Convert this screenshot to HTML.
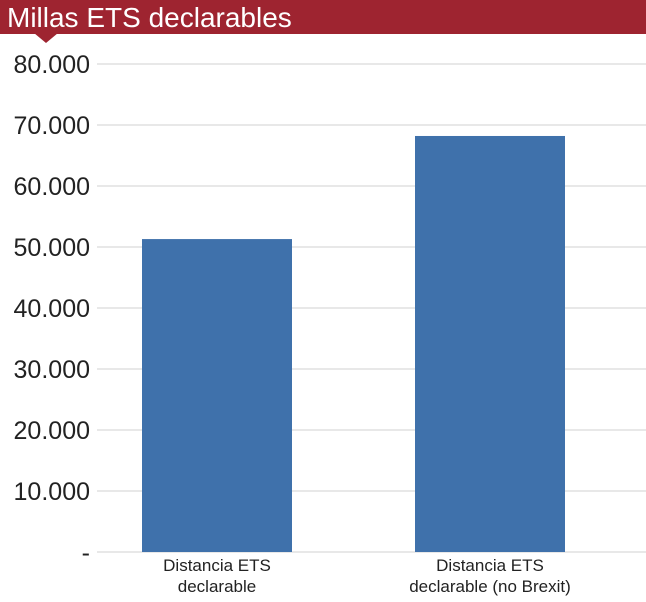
<!DOCTYPE html>
<html><head><meta charset="utf-8"><style>
body{margin:0;background:#fff;width:646px;height:597px;overflow:hidden;font-family:"Liberation Sans",sans-serif}
</style></head><body>
<svg width="646" height="597">
<rect x="0" y="0" width="646" height="34" fill="#9e2430"/>
<polygon points="34,33 58,33 46,43" fill="#9e2430"/>
<text x="7" y="27" fill="#fff" font-size="28">Millas ETS declarables</text>
<g id="grid"></g><g id="bars"></g><g id="labels"></g>
</svg>
<script>
const categories=[["Distancia ETS","declarable"],["Distancia ETS","declarable (no Brexit)"]];
const values=[51300,68200];
const ticks=[10000,20000,30000,40000,50000,60000,70000,80000];
const tickLabels=["10.000","20.000","30.000","40.000","50.000","60.000","70.000","80.000"];
const NS="http://www.w3.org/2000/svg";
const y=v=>552-v*61/10000;
const x=i=>142+i*273;
function mk(t,a,p){const e=document.createElementNS(NS,t);for(const k in a)e.setAttribute(k,a[k]);document.getElementById(p).appendChild(e);return e;}
ticks.forEach((t,i)=>{
 const l=mk('line',{x1:97,x2:646,y1:y(t),y2:y(t),stroke:'#d0d0d0','stroke-width':1},'grid');
 
 
 const tx=mk('text',{x:90,y:y(t)+9,'text-anchor':'end','font-size':25,fill:'#222'},'grid');
 tx.textContent=tickLabels[i];
 
 
});
const z=mk('text',{x:90,y:561,'text-anchor':'end','font-size':25,fill:'#222'},'grid');z.textContent='-';


const base=mk('line',{x1:97,x2:646,y1:552,y2:552,stroke:'#d0d0d0'},'grid');


values.forEach((v,i)=>{
 const r=mk('rect',{x:x(i),y:y(v),width:150,height:552-y(v),fill:'#3f71ab'},'bars');
 
 
 categories[i].forEach((s,j)=>{
  const t=mk('text',{x:x(i)+75,y:571+j*21,'text-anchor':'middle','font-size':17,fill:'#222'},'labels');
  t.textContent=s;
  
  
 });
});
</script>
</body></html>
